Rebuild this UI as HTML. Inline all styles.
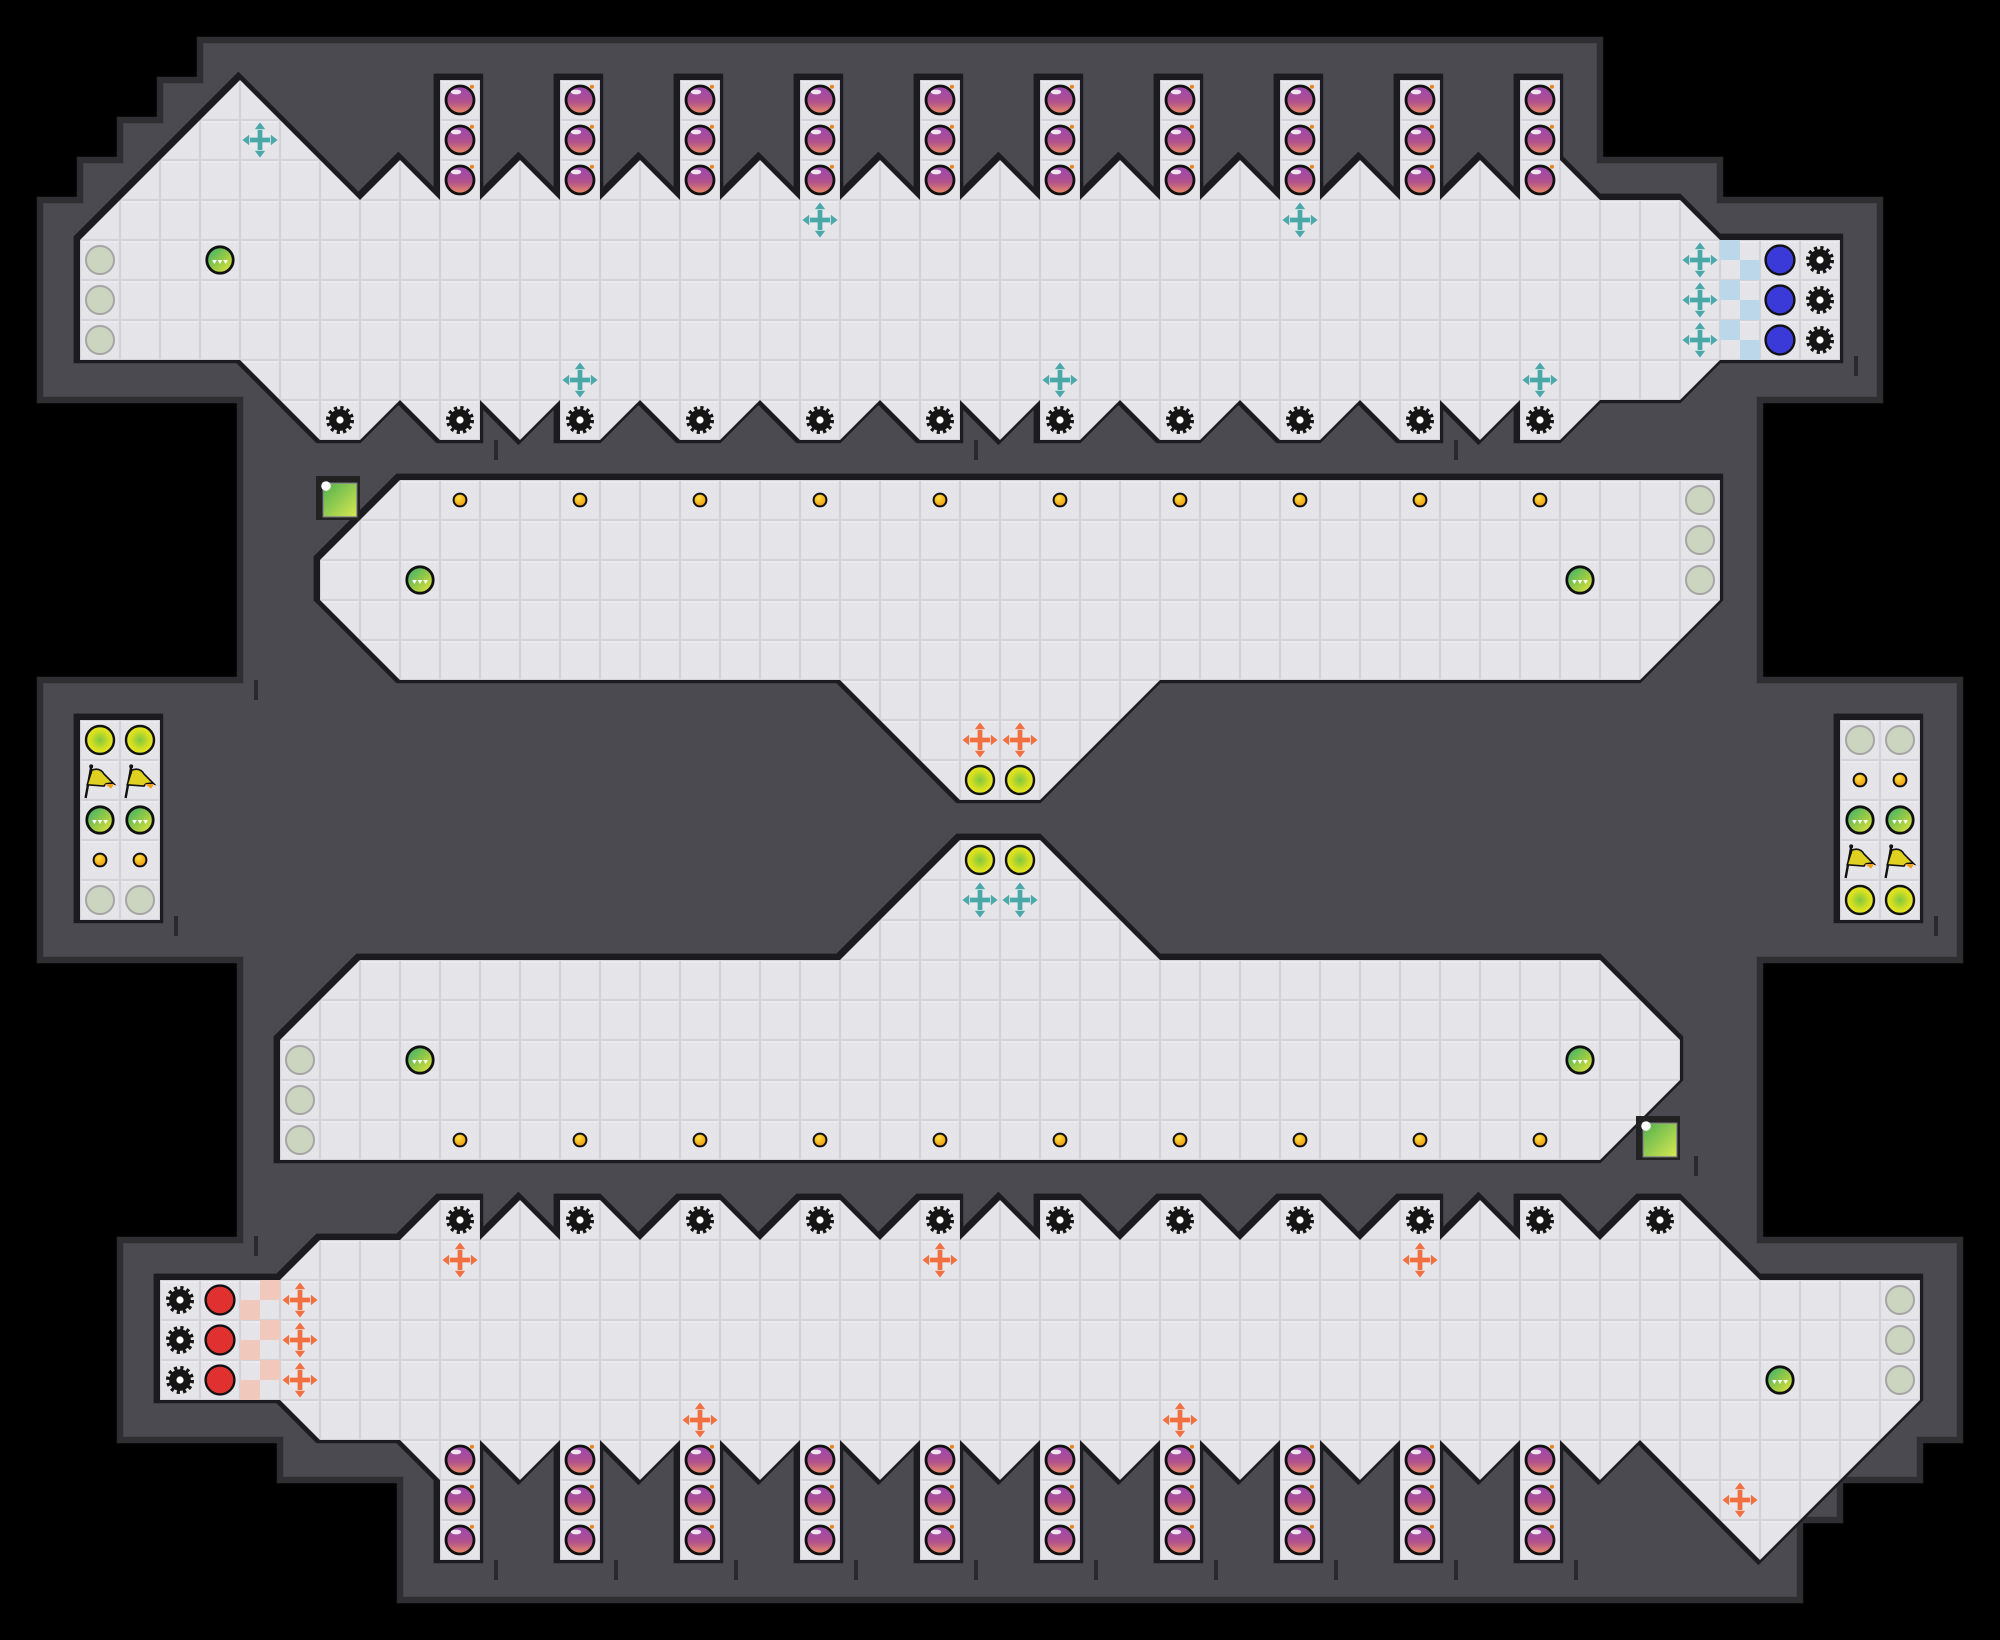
<!DOCTYPE html>
<html><head><meta charset="utf-8"><style>html,body{margin:0;padding:0;background:#000;}svg{display:block}</style></head>
<body>
<svg xmlns="http://www.w3.org/2000/svg" xmlns:xlink="http://www.w3.org/1999/xlink" width="2000" height="1640" viewBox="0 0 50 41" preserveAspectRatio="none">
<defs>
<pattern id="grid" patternUnits="userSpaceOnUse" width="1" height="1">
<rect width="1" height="1" fill="#d3d3d9"/>
<rect x="0.03" y="0.03" width="0.94" height="0.94" fill="#e5e5e9"/>
<rect x="0.03" y="0.03" width="0.94" height="0.05" fill="#ececf0"/>
</pattern>
<linearGradient id="gBomb" x1="0" y1="0" x2="0" y2="1"><stop offset="0" stop-color="#9a48b0"/><stop offset="0.55" stop-color="#b0508e"/><stop offset="1" stop-color="#ec8a64"/></linearGradient>
<linearGradient id="gFish" x1="0" y1="0" x2="1" y2="1"><stop offset="0" stop-color="#30b070"/><stop offset="0.5" stop-color="#90c848"/><stop offset="1" stop-color="#eee838"/></linearGradient>
<radialGradient id="gYel" cx="0.5" cy="0.5" r="0.5"><stop offset="0" stop-color="#80c840"/><stop offset="0.7" stop-color="#d8e020"/><stop offset="1" stop-color="#e6e820"/></radialGradient>
<radialGradient id="gDot" cx="0.4" cy="0.35" r="0.6"><stop offset="0" stop-color="#ffe040"/><stop offset="1" stop-color="#f0a010"/></radialGradient>
<linearGradient id="gSq" x1="0" y1="0" x2="1" y2="1"><stop offset="0" stop-color="#50b050"/><stop offset="1" stop-color="#d8e850"/></linearGradient>
<g id="bomb"><circle r="0.35" fill="url(#gBomb)" stroke="#111" stroke-width="0.07"/><ellipse cx="-0.1" cy="-0.2" rx="0.13" ry="0.06" fill="#fff" opacity="0.85"/><circle cx="0.3" cy="-0.33" r="0.05" fill="#f08020"/></g>
<g id="gear"><circle r="0.3" fill="none" stroke="#151515" stroke-width="0.1" stroke-dasharray="0.0785 0.0785"/><circle r="0.27" fill="#151515"/><circle r="0.09" fill="#fff"/></g>
<g id="cross"><circle r="0.3" fill="#eaeaee" opacity="0.8"/><path d="M-0.06,-0.25 h0.12 v0.19 h0.19 v0.12 h-0.19 v0.19 h-0.12 v-0.19 h-0.19 v-0.12 h0.19z"/><path d="M0,-0.44 l0.13,0.17 h-0.26z M0,0.44 l0.13,-0.17 h-0.26z M-0.44,0 l0.17,0.13 v-0.26z M0.44,0 l-0.17,0.13 v-0.26z"/></g>
<g id="teal" fill="#4aa8a8"><use href="#cross"/></g>
<g id="orng" fill="#f07040"><use href="#cross"/></g>
<g id="fish"><circle r="0.33" fill="url(#gFish)" stroke="#111" stroke-width="0.07"/><path d="M-0.2,0 h0.12 l-0.06,0.1z M-0.06,0 h0.12 l-0.06,0.1z M0.08,0 h0.12 l-0.06,0.1z" fill="#fff"/></g>
<g id="gray"><circle r="0.35" fill="#ccd5c0" stroke="#a5a5a5" stroke-width="0.05"/></g>
<g id="yel"><circle r="0.35" fill="url(#gYel)" stroke="#111" stroke-width="0.06"/></g>
<g id="dot"><circle r="0.16" fill="url(#gDot)" stroke="#111" stroke-width="0.05"/></g>
<g id="blue"><circle r="0.36" fill="#3a3ad8" stroke="#111" stroke-width="0.06"/></g>
<g id="red"><circle r="0.36" fill="#e03030" stroke="#111" stroke-width="0.06"/></g>
<g id="flag"><path d="M-0.36,0.45 L-0.22,-0.32" stroke="#111" stroke-width="0.06"/><circle cx="-0.22" cy="-0.34" r="0.05" fill="#111"/><path d="M-0.2,-0.25 Q0,-0.32 0.1,-0.15 L0.35,0.1 Q0.15,0.05 0.1,0.15 L-0.32,0.12z" fill="#e0d020" stroke="#111" stroke-width="0.04"/><path d="M0.12,0.1 L0.35,0.1 L0.28,0.22z" fill="#f0a020"/></g>
<g id="tick"><rect x="-0.05" y="0" width="0.1" height="0.5" fill="#2a2a2e"/></g>
</defs>

<rect width="50" height="41" fill="#000"/>
<polygon points="5,1 40,1 40,4 43,4 43,5 47,5 47,10 44,10 44,17 49,17 49,24 44,24 44,31 49,31 49,36 48,36 48,37 46,37 46,38 45,38 45,40 10,40 10,37 7,37 7,36 3,36 3,31 6,31 6,24 1,24 1,17 6,17 6,10 1,10 1,5 2,5 2,4 3,4 3,3 4,3 4,2 5,2" fill="#4b4a50" stroke="#2e2e33" stroke-width="0.16"/>

<g id="floors">
<polygon id="f1" points="2,6 6,2 9,5 10,4 11,5 11,2 12,2 12,5 13,4 14,5 14,2 15,2 15,5 16,4 17,5 17,2 18,2 18,5 19,4 20,5 20,2 21,2 21,5 22,4 23,5 23,2 24,2 24,5 25,4 26,5 26,2 27,2 27,5 28,4 29,5 29,2 30,2 30,5 31,4 32,5 32,2 33,2 33,5 34,4 35,5 35,2 36,2 36,5 37,4 38,5 38,2 39,2 39,4 40,5 42,5 43,6 46,6 46,9 43,9 42,10 40,10 39,11 38,11 38,10 37,11 36,10 36,11 35,11 34,10 33,11 32,11 31,10 30,11 29,11 28,10 27,11 26,11 26,10 25,11 24,10 24,11 23,11 22,10 21,11 20,11 19,10 18,11 17,11 16,10 15,11 14,11 14,10 13,11 12,10 12,11 11,11 10,10 9,11 8,11 6,9 2,9"/>
<polygon id="f2" points="10,12 43,12 43,15 41,17 29,17 26,20 24,20 21,17 10,17 8,15 8,14"/>
<polygon id="f3" points="24,21 26,21 29,24 40,24 42,26 42,27 40,29 7,29 7,26 9,24 21,24"/>
<polygon id="f4" points="4,32 7,32 8,31 10,31 11,30 12,30 12,31 13,30 14,31 14,30 15,30 16,31 17,30 18,30 19,31 20,30 21,30 22,31 23,30 24,30 24,31 25,30 26,31 26,30 27,30 28,31 29,30 30,30 31,31 32,30 33,30 34,31 35,30 36,30 36,31 37,30 38,31 38,30 39,30 40,31 41,30 42,30 44,32 48,32 48,35 44,39 41,36 40,37 39,36 39,39 38,39 38,36 37,37 36,36 36,39 35,39 35,36 34,37 33,36 33,39 32,39 32,36 31,37 30,36 30,39 29,39 29,36 28,37 27,36 27,39 26,39 26,36 25,37 24,36 24,39 23,39 23,36 22,37 21,36 21,39 20,39 20,36 19,37 18,36 18,39 17,39 17,36 16,37 15,36 15,39 14,39 14,36 13,37 12,36 12,39 11,39 11,37 10,36 8,36 7,35 4,35"/>
<rect id="f5" x="2" y="18" width="2" height="5"/>
<rect id="f6" x="46" y="18" width="2" height="5"/>
</g>
<g fill="#1c1c20" stroke="#1c1c20" stroke-width="0.24" stroke-linejoin="miter" transform="translate(-0.04,-0.04)">
<use href="#f1"/><use href="#f2"/><use href="#f3"/><use href="#f4"/><use href="#f5"/><use href="#f6"/>
</g>
<g fill="url(#grid)">
<use href="#f1"/><use href="#f2"/><use href="#f3"/><use href="#f4"/><use href="#f5"/><use href="#f6"/>
</g>

<g fill="#bcd6ea"><rect x="43" y="6" width="0.5" height="0.5"/><rect x="43.5" y="6.5" width="0.5" height="0.5"/><rect x="43" y="7" width="0.5" height="0.5"/><rect x="43.5" y="7.5" width="0.5" height="0.5"/><rect x="43" y="8" width="0.5" height="0.5"/><rect x="43.5" y="8.5" width="0.5" height="0.5"/></g>
<g fill="#f0c8bc"><rect x="6.5" y="32" width="0.5" height="0.5"/><rect x="6" y="32.5" width="0.5" height="0.5"/><rect x="6.5" y="33" width="0.5" height="0.5"/><rect x="6" y="33.5" width="0.5" height="0.5"/><rect x="6.5" y="34" width="0.5" height="0.5"/><rect x="6" y="34.5" width="0.5" height="0.5"/></g>

<g><rect x="7.9" y="11.9" width="1.1" height="1.1" fill="#222"/><rect x="8.08" y="12.08" width="0.84" height="0.84" fill="url(#gSq)" stroke="#888" stroke-width="0.03"/><circle cx="8.15" cy="12.15" r="0.12" fill="#fff"/></g>
<g><rect x="40.9" y="27.9" width="1.1" height="1.1" fill="#222"/><rect x="41.08" y="28.08" width="0.84" height="0.84" fill="url(#gSq)" stroke="#888" stroke-width="0.03"/><circle cx="41.15" cy="28.15" r="0.12" fill="#fff"/></g>

<g>
<use href="#bomb" x="11.5" y="2.5"/><use href="#bomb" x="11.5" y="3.5"/><use href="#bomb" x="11.5" y="4.5"/>
<use href="#bomb" x="14.5" y="2.5"/><use href="#bomb" x="14.5" y="3.5"/><use href="#bomb" x="14.5" y="4.5"/>
<use href="#bomb" x="17.5" y="2.5"/><use href="#bomb" x="17.5" y="3.5"/><use href="#bomb" x="17.5" y="4.5"/>
<use href="#bomb" x="20.5" y="2.5"/><use href="#bomb" x="20.5" y="3.5"/><use href="#bomb" x="20.5" y="4.5"/>
<use href="#bomb" x="23.5" y="2.5"/><use href="#bomb" x="23.5" y="3.5"/><use href="#bomb" x="23.5" y="4.5"/>
<use href="#bomb" x="26.5" y="2.5"/><use href="#bomb" x="26.5" y="3.5"/><use href="#bomb" x="26.5" y="4.5"/>
<use href="#bomb" x="29.5" y="2.5"/><use href="#bomb" x="29.5" y="3.5"/><use href="#bomb" x="29.5" y="4.5"/>
<use href="#bomb" x="32.5" y="2.5"/><use href="#bomb" x="32.5" y="3.5"/><use href="#bomb" x="32.5" y="4.5"/>
<use href="#bomb" x="35.5" y="2.5"/><use href="#bomb" x="35.5" y="3.5"/><use href="#bomb" x="35.5" y="4.5"/>
<use href="#bomb" x="38.5" y="2.5"/><use href="#bomb" x="38.5" y="3.5"/><use href="#bomb" x="38.5" y="4.5"/>
<use href="#gear" x="8.5" y="10.5"/><use href="#gear" x="11.5" y="10.5"/><use href="#gear" x="14.5" y="10.5"/><use href="#gear" x="17.5" y="10.5"/><use href="#gear" x="20.5" y="10.5"/><use href="#gear" x="23.5" y="10.5"/><use href="#gear" x="26.5" y="10.5"/><use href="#gear" x="29.5" y="10.5"/><use href="#gear" x="32.5" y="10.5"/><use href="#gear" x="35.5" y="10.5"/><use href="#gear" x="38.5" y="10.5"/>
<use href="#teal" x="6.5" y="3.5"/><use href="#teal" x="20.5" y="5.5"/><use href="#teal" x="32.5" y="5.5"/><use href="#teal" x="14.5" y="9.5"/><use href="#teal" x="26.5" y="9.5"/><use href="#teal" x="38.5" y="9.5"/>
<use href="#teal" x="42.5" y="6.5"/><use href="#teal" x="42.5" y="7.5"/><use href="#teal" x="42.5" y="8.5"/>
<use href="#gray" x="2.5" y="6.5"/><use href="#gray" x="2.5" y="7.5"/><use href="#gray" x="2.5" y="8.5"/>
<use href="#fish" x="5.5" y="6.5"/>
<use href="#blue" x="44.5" y="6.5"/><use href="#blue" x="44.5" y="7.5"/><use href="#blue" x="44.5" y="8.5"/>
<use href="#gear" x="45.5" y="6.5"/><use href="#gear" x="45.5" y="7.5"/><use href="#gear" x="45.5" y="8.5"/>
</g>

<g>
<use href="#dot" x="11.5" y="12.5"/><use href="#dot" x="14.5" y="12.5"/><use href="#dot" x="17.5" y="12.5"/><use href="#dot" x="20.5" y="12.5"/><use href="#dot" x="23.5" y="12.5"/><use href="#dot" x="26.5" y="12.5"/><use href="#dot" x="29.5" y="12.5"/><use href="#dot" x="32.5" y="12.5"/><use href="#dot" x="35.5" y="12.5"/><use href="#dot" x="38.5" y="12.5"/>
<use href="#fish" x="10.5" y="14.5"/><use href="#fish" x="39.5" y="14.5"/>
<use href="#gray" x="42.5" y="12.5"/><use href="#gray" x="42.5" y="13.5"/><use href="#gray" x="42.5" y="14.5"/>
<use href="#orng" x="24.5" y="18.5"/><use href="#orng" x="25.5" y="18.5"/>
<use href="#yel" x="24.5" y="19.5"/><use href="#yel" x="25.5" y="19.5"/>
</g>

<g>
<use href="#yel" x="2.5" y="18.5"/><use href="#yel" x="3.5" y="18.5"/>
<use href="#flag" x="2.5" y="19.5"/><use href="#flag" x="3.5" y="19.5"/>
<use href="#fish" x="2.5" y="20.5"/><use href="#fish" x="3.5" y="20.5"/>
<use href="#dot" x="2.5" y="21.5"/><use href="#dot" x="3.5" y="21.5"/>
<use href="#gray" x="2.5" y="22.5"/><use href="#gray" x="3.5" y="22.5"/>
<use href="#gray" x="46.5" y="18.5"/><use href="#gray" x="47.5" y="18.5"/>
<use href="#dot" x="46.5" y="19.5"/><use href="#dot" x="47.5" y="19.5"/>
<use href="#fish" x="46.5" y="20.5"/><use href="#fish" x="47.5" y="20.5"/>
<use href="#flag" x="46.5" y="21.5"/><use href="#flag" x="47.5" y="21.5"/>
<use href="#yel" x="46.5" y="22.5"/><use href="#yel" x="47.5" y="22.5"/>
</g>

<g>
<use href="#yel" x="24.5" y="21.5"/><use href="#yel" x="25.5" y="21.5"/>
<use href="#teal" x="24.5" y="22.5"/><use href="#teal" x="25.5" y="22.5"/>
<use href="#gray" x="7.5" y="26.5"/><use href="#gray" x="7.5" y="27.5"/><use href="#gray" x="7.5" y="28.5"/>
<use href="#fish" x="10.5" y="26.5"/><use href="#fish" x="39.5" y="26.5"/>
<use href="#dot" x="11.5" y="28.5"/><use href="#dot" x="14.5" y="28.5"/><use href="#dot" x="17.5" y="28.5"/><use href="#dot" x="20.5" y="28.5"/><use href="#dot" x="23.5" y="28.5"/><use href="#dot" x="26.5" y="28.5"/><use href="#dot" x="29.5" y="28.5"/><use href="#dot" x="32.5" y="28.5"/><use href="#dot" x="35.5" y="28.5"/><use href="#dot" x="38.5" y="28.5"/>
</g>

<g>
<use href="#gear" x="11.5" y="30.5"/><use href="#gear" x="14.5" y="30.5"/><use href="#gear" x="17.5" y="30.5"/><use href="#gear" x="20.5" y="30.5"/><use href="#gear" x="23.5" y="30.5"/><use href="#gear" x="26.5" y="30.5"/><use href="#gear" x="29.5" y="30.5"/><use href="#gear" x="32.5" y="30.5"/><use href="#gear" x="35.5" y="30.5"/><use href="#gear" x="38.5" y="30.5"/><use href="#gear" x="41.5" y="30.5"/>
<use href="#orng" x="11.5" y="31.5"/><use href="#orng" x="23.5" y="31.5"/><use href="#orng" x="35.5" y="31.5"/><use href="#orng" x="17.5" y="35.5"/><use href="#orng" x="29.5" y="35.5"/><use href="#orng" x="43.5" y="37.5"/>
<use href="#orng" x="7.5" y="32.5"/><use href="#orng" x="7.5" y="33.5"/><use href="#orng" x="7.5" y="34.5"/>
<use href="#gear" x="4.5" y="32.5"/><use href="#gear" x="4.5" y="33.5"/><use href="#gear" x="4.5" y="34.5"/>
<use href="#red" x="5.5" y="32.5"/><use href="#red" x="5.5" y="33.5"/><use href="#red" x="5.5" y="34.5"/>
<use href="#gray" x="47.5" y="32.5"/><use href="#gray" x="47.5" y="33.5"/><use href="#gray" x="47.5" y="34.5"/>
<use href="#fish" x="44.5" y="34.5"/>
<use href="#bomb" x="11.5" y="36.5"/><use href="#bomb" x="11.5" y="37.5"/><use href="#bomb" x="11.5" y="38.5"/>
<use href="#bomb" x="14.5" y="36.5"/><use href="#bomb" x="14.5" y="37.5"/><use href="#bomb" x="14.5" y="38.5"/>
<use href="#bomb" x="17.5" y="36.5"/><use href="#bomb" x="17.5" y="37.5"/><use href="#bomb" x="17.5" y="38.5"/>
<use href="#bomb" x="20.5" y="36.5"/><use href="#bomb" x="20.5" y="37.5"/><use href="#bomb" x="20.5" y="38.5"/>
<use href="#bomb" x="23.5" y="36.5"/><use href="#bomb" x="23.5" y="37.5"/><use href="#bomb" x="23.5" y="38.5"/>
<use href="#bomb" x="26.5" y="36.5"/><use href="#bomb" x="26.5" y="37.5"/><use href="#bomb" x="26.5" y="38.5"/>
<use href="#bomb" x="29.5" y="36.5"/><use href="#bomb" x="29.5" y="37.5"/><use href="#bomb" x="29.5" y="38.5"/>
<use href="#bomb" x="32.5" y="36.5"/><use href="#bomb" x="32.5" y="37.5"/><use href="#bomb" x="32.5" y="38.5"/>
<use href="#bomb" x="35.5" y="36.5"/><use href="#bomb" x="35.5" y="37.5"/><use href="#bomb" x="35.5" y="38.5"/>
<use href="#bomb" x="38.5" y="36.5"/><use href="#bomb" x="38.5" y="37.5"/><use href="#bomb" x="38.5" y="38.5"/>
</g>

<g>
<use href="#tick" x="12.4" y="11.0"/><use href="#tick" x="24.4" y="11.0"/><use href="#tick" x="36.4" y="11.0"/>
<use href="#tick" x="6.4" y="17.0"/><use href="#tick" x="4.4" y="22.9"/><use href="#tick" x="46.4" y="8.9"/><use href="#tick" x="48.4" y="22.9"/>
<use href="#tick" x="42.4" y="28.9"/><use href="#tick" x="6.4" y="30.9"/>
<use href="#tick" x="12.4" y="39.0"/><use href="#tick" x="15.4" y="39.0"/><use href="#tick" x="18.4" y="39.0"/><use href="#tick" x="21.4" y="39.0"/><use href="#tick" x="24.4" y="39.0"/><use href="#tick" x="27.4" y="39.0"/><use href="#tick" x="30.4" y="39.0"/><use href="#tick" x="33.4" y="39.0"/><use href="#tick" x="36.4" y="39.0"/><use href="#tick" x="39.4" y="39.0"/>
</g>
</svg>
</body></html>
